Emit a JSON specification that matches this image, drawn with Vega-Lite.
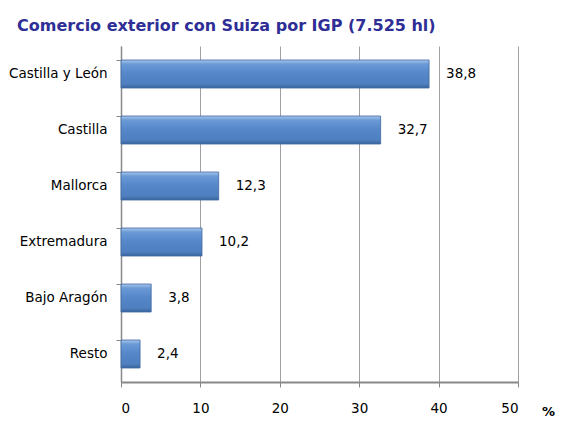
{
  "$schema": "https://vega.github.io/schema/vega-lite/v6.json",
  "width": 397,
  "height": 336,
  "autosize": {"type": "none"},
  "padding": {"left": 121, "top": 46, "right": 50, "bottom": 39},
  "background": "white",
  "config": {
    "view": {"stroke": null},
    "locale": {"number": {"decimal": ",", "thousands": ".", "grouping": [3], "currency": ["", " €"]}},
    "font": "DejaVu Sans"
  },
  "title": {
    "text": "Comercio exterior con Suiza por IGP (7.525 hl)",
    "anchor": "start",
    "frame": "group",
    "dx": -104,
    "offset": 12,
    "font": "DejaVu Sans",
    "fontSize": 16,
    "fontWeight": "bold",
    "color": "#2e2e96"
  },
  "data": {
    "values": [
      {"region": "Castilla y León", "pct": 38.8},
      {"region": "Castilla", "pct": 32.7},
      {"region": "Mallorca", "pct": 12.3},
      {"region": "Extremadura", "pct": 10.2},
      {"region": "Bajo Aragón", "pct": 3.8},
      {"region": "Resto", "pct": 2.4}
    ]
  },
  "encoding": {
    "y": {
      "field": "region",
      "type": "nominal",
      "sort": null,
      "scale": {"paddingInner": 0.5, "paddingOuter": 0.25},
      "axis": {
        "title": null,
        "bandPosition": 0,
        "domainColor": "#888888",
        "domainWidth": 1.5,
        "tickColor": "#888888",
        "tickSize": 5,
        "labelPadding": 9,
        "labelFontSize": 13.5,
        "labelColor": "#000000",
        "labelFont": "DejaVu Sans"
      }
    },
    "x": {
      "field": "pct",
      "type": "quantitative",
      "scale": {"domain": [0, 50], "nice": false},
      "axis": {
        "values": [0, 10, 20, 30, 40, 50],
        "title": "%",
        "titleX": 427,
        "titleY": 33,
        "titleBaseline": "alphabetic",
        "titleFontSize": 13,
        "titleFontWeight": "bold",
        "titleColor": "#000000",
        "domainColor": "#888888",
        "domainWidth": 2,
        "tickColor": "#888888",
        "tickSize": 5,
        "labelPadding": 14,
        "labelFontSize": 13.5,
        "labelColor": "#000000",
        "labelFont": "DejaVu Sans",
        "grid": true,
        "gridColor": "#a0a0a0",
        "gridWidth": 1
      }
    }
  },
  "layer": [
    {
      "mark": {
        "type": "bar",
        "stroke": "#3e68a0",
        "strokeWidth": 0.8,
        "color": {
          "gradient": "linear",
          "x1": 0, "y1": 0, "x2": 0, "y2": 1,
          "stops": [
            {"offset": 0, "color": "#a9c6ec"},
            {"offset": 0.15, "color": "#6a99d6"},
            {"offset": 0.5, "color": "#5486c8"},
            {"offset": 0.85, "color": "#4f80c0"},
            {"offset": 1, "color": "#3a639c"}
          ]
        }
      }
    },
    {
      "mark": {"type": "text", "align": "left", "dx": 17, "fontSize": 13.5, "color": "#000000", "font": "DejaVu Sans"},
      "encoding": {
        "text": {"field": "pct", "type": "quantitative", "format": ".1f"}
      }
    }
  ]
}
